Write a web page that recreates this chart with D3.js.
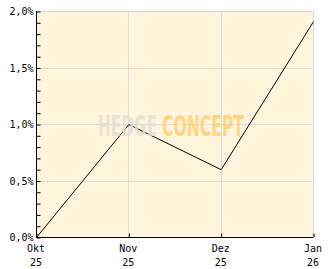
<!DOCTYPE html>
<html>
<meta charset="utf-8">
<style>
    body { margin: 0; background: #fff; }
    .tick text, .lbl { font: 10px "DejaVu Sans Mono", monospace; fill: #000; }
</style>
<body>
<script src="https://d3js.org/d3.v7.min.js"></script>
<div id="chart"></div>
<script>
    var months = ["Okt", "Nov", "Dez", "Jan"];
    var years = ["25", "25", "25", "26"];
    var values = [0.0, 1.0, 0.6, 1.91];
    var yMajor = [0, 0.5, 1.0, 1.5, 2.0];

    var W = 332, H = 269;
    var pl = 36, pr = 313, pt = 11, pb = 237;

    var svg = d3.select("#chart").append("svg")
        .attr("width", W).attr("height", H);

    var x = d3.scalePoint().domain(months).range([pl, pr]);
    var y = d3.scaleLinear().domain([0, 2]).range([pb, pt]);

    // plot background
    svg.append("rect")
        .attr("x", pl).attr("y", pt)
        .attr("width", pr - pl).attr("height", pb - pt)
        .attr("fill", "#fff5dc");

    // grid
    svg.selectAll("line.hg").data(yMajor.slice(1)).enter().append("line")
        .attr("x1", pl).attr("x2", pr + 0.5)
        .attr("y1", d => Math.round(y(d)) + 0.5).attr("y2", d => Math.round(y(d)) + 0.5)
        .attr("stroke", "#dcdcdc");
    svg.selectAll("line.vg").data(months.slice(1)).enter().append("line")
        .attr("x1", d => Math.round(x(d)) + 0.5).attr("x2", d => Math.round(x(d)) + 0.5)
        .attr("y1", pt).attr("y2", pb)
        .attr("stroke", "#dcdcdc");

    // line
    var line = d3.line()
        .x((d, i) => x(months[i]) + 0.5)
        .y(d => y(d) + 0.5);
    svg.append("path").datum(values)
        .attr("d", line)
        .attr("fill", "none")
        .attr("stroke", "#000")
        .attr("stroke-width", 1);

    // watermark (stretched vertically, drawn over the line)
    var wm = svg.append("g")
        .attr("transform", "translate(0,136) scale(1,1.7)")
        .attr("opacity", 0.8)
        .style("font", "bold 17px 'DejaVu Sans Condensed', sans-serif");
    wm.append("text")
        .attr("x", 98).attr("y", 0)
        .attr("textLength", 59).attr("lengthAdjust", "spacingAndGlyphs")
        .attr("fill", "#e2dfd8")
        .text("HEDGE");
    wm.append("text")
        .attr("x", 162).attr("y", 0)
        .attr("textLength", 82).attr("lengthAdjust", "spacingAndGlyphs")
        .attr("fill", "#ffcf6e")
        .text("CONCEPT");

    // y axis
    var yAxis = d3.axisLeft(y)
        .tickValues(y.ticks(20))
        .tickSize(-4)
        .tickFormat(d => yMajor.some(m => Math.abs(m - d) < 1e-9) ? d3.format(".1f")(d).replace(".", ",") + "%" : "");
    var gy = svg.append("g")
        .attr("transform", "translate(" + (pl + 0.5) + ",0.5)")
        .call(yAxis);
    gy.select(".domain").attr("d", "M0," + (pt - 0.5) + "V" + (pb - 0.5)).attr("stroke", "#000");
    gy.selectAll(".tick text").attr("x", -3);

    // x axis
    var xAxis = d3.axisBottom(x).tickSize(-4).tickFormat("");
    var gx = svg.append("g")
        .attr("transform", "translate(0.5," + (pb + 0.5) + ")")
        .call(xAxis);
    gx.select(".domain").attr("d", "M" + (pl - 0.5) + ",0H" + (pr - 0.5)).attr("stroke", "#000");

    svg.selectAll("text.m").data(months).enter().append("text")
        .attr("class", "lbl")
        .attr("x", d => x(d)).attr("y", 252)
        .attr("text-anchor", "middle")
        .text(d => d);
    svg.selectAll("text.yr").data(years).enter().append("text")
        .attr("class", "lbl")
        .attr("x", (d, i) => x(months[i])).attr("y", 266)
        .attr("text-anchor", "middle")
        .text(d => d);
</script>
</body>
</html>
